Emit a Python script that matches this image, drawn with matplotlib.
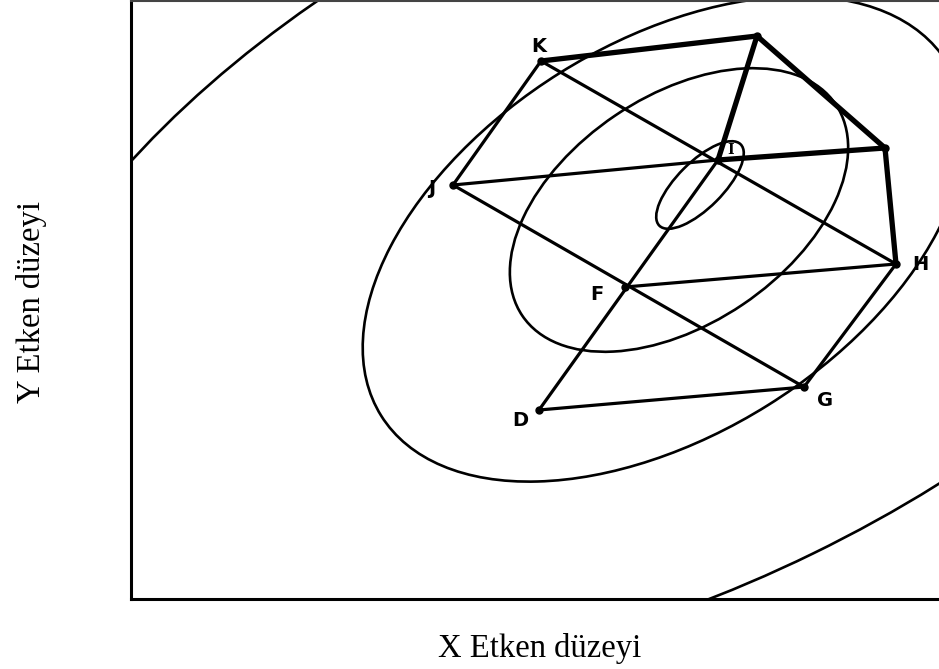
import matplotlib.pyplot as plt
from matplotlib.patches import Ellipse

# simplex vertices on the X/Y factor plane (arbitrary level units)
pt_names = ['D', 'F', 'G', 'H', 'I', 'J', 'K', 'L', 'M']
pt_labels = ['D', 'F', 'G', 'H', 'I', 'J', 'K', '', '']
pt_x = [40.8, 49.4, 67.3, 76.5, 58.7, 32.2, 41.0, 62.6, 75.4]
pt_y = [18.9, 31.2, 21.2, 33.5, 43.9, 41.4, 53.8, 56.3, 45.1]

# label offsets in pixels
lab_dx = [-19, -28, 21, 24, 13, -21, -2, 0, 0]
lab_dy = [-11, -7, -13, -1, 10, -3, 15, 0, 0]

# simplex edges
thin_edges = [('K', 'J'), ('K', 'H'), ('J', 'I'), ('J', 'G'), ('F', 'H'),
              ('H', 'G'), ('D', 'G'), ('D', 'I')]
thick_edges = [('K', 'L'), ('L', 'M'), ('L', 'I'), ('I', 'M'), ('M', 'H')]

# response contours (inner to outer)
ell_cx = [56.9, 54.8, 53.3, 52.2]
ell_cy = [41.4, 38.9, 36.0, 37.3]
ell_w = [11.5, 37.8, 66.7, 143.0]
ell_h = [4.6, 22.8, 39.2, 72.9]
ell_ang = [45, 34, 32, 26]

fig = plt.figure(figsize=(9.39, 6.69), dpi=100)
ax = fig.add_axes([131 / 939, 70 / 669, 808 / 939, 598 / 669])
ax.set_xlim(0, 80.8)
ax.set_ylim(0, 59.8)
ax.set_xticks([])
ax.set_yticks([])
ax.spines['right'].set_visible(False)
ax.spines['left'].set_linewidth(2.2)
ax.spines['bottom'].set_linewidth(2.2)
ax.spines['top'].set_linewidth(1.5)
ax.spines['top'].set_color('#444444')

for cx, cy, w, h, a in zip(ell_cx, ell_cy, ell_w, ell_h, ell_ang):
    ax.add_patch(Ellipse((cx, cy), w, h, angle=a, fill=False,
                         edgecolor='black', linewidth=1.9))

pos = {n: (x, y) for n, x, y in zip(pt_names, pt_x, pt_y)}
for p, q in thin_edges:
    ax.plot([pos[p][0], pos[q][0]], [pos[p][1], pos[q][1]],
            color='black', lw=2.3, solid_capstyle='round')
for p, q in thick_edges:
    ax.plot([pos[p][0], pos[q][0]], [pos[p][1], pos[q][1]],
            color='black', lw=3.8, solid_capstyle='round')

ax.plot(pt_x, pt_y, 'o', color='black', ms=5, ls='none')

for x, y, lab, dx, dy in zip(pt_x, pt_y, pt_labels, lab_dx, lab_dy):
    if not lab:
        continue
    if lab == 'I':
        ax.annotate(lab, (x, y), xytext=(dx, dy), textcoords='offset pixels',
                    ha='center', va='center', fontsize=10, fontweight='bold',
                    family='DejaVu Serif')
    else:
        ax.annotate(lab, (x, y), xytext=(dx, dy), textcoords='offset pixels',
                    ha='center', va='center', fontsize=14, fontweight='bold',
                    family='DejaVu Sans')

fig.text(540 / 939, 1 - 648 / 669, 'X Etken düzeyi', ha='center', va='center',
         fontsize=23.5, family='Liberation Serif')
fig.text(32 / 939, 1 - 302 / 669, 'Y Etken düzeyi', ha='center', va='center',
         fontsize=23.5, family='Liberation Serif', rotation=90)

fig.savefig('out.png', dpi=100)
